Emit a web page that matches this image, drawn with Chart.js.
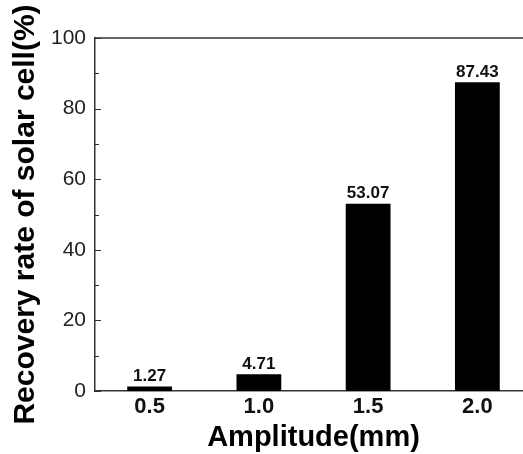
<!DOCTYPE html>
<html>
<head>
<meta charset="utf-8">
<script src="https://cdn.jsdelivr.net/npm/chart.js@4"></script>
<style>
  html, body { margin: 0; padding: 0; background: #fff; overflow: hidden; }
  #wrap { width: 533px; height: 454px; }
</style>
</head>
<body>
<div id="wrap"><canvas id="grafica"></canvas></div>
<script>
const categorias = ["0.5", "1.0", "1.5", "2.0"];
const valores = [1.27, 4.71, 53.07, 87.43];
const etiquetas = ["1.27", "4.71", "53.07", "87.43"];
const ticksY = [0, 20, 40, 60, 80, 100];
const ticksMenores = [10, 30, 50, 70, 90];

const FUENTE = "'Liberation Sans', Arial, sans-serif";
const EJE = "#333";

// marcas hacia adentro, borde superior y titulo del eje Y
const extras = {
  id: "extras",
  afterDatasetsDraw(chart) {
    const ctx = chart.ctx;
    const area = chart.chartArea;
    const y = chart.scales.y;

    ctx.save();
    ctx.strokeStyle = EJE;
    ctx.lineWidth = 1.5;
    ctx.beginPath();
    ctx.moveTo(area.left, area.top);
    ctx.lineTo(area.right, area.top);
    ctx.stroke();

    ctx.lineWidth = 1;
    ticksY.forEach(v => {
      const py = Math.round(y.getPixelForValue(v)) + 0.5;
      ctx.beginPath();
      ctx.moveTo(area.left, py);
      ctx.lineTo(area.left + 6, py);
      ctx.stroke();
    });
    ticksMenores.forEach(v => {
      const py = Math.round(y.getPixelForValue(v)) + 0.5;
      ctx.beginPath();
      ctx.moveTo(area.left, py);
      ctx.lineTo(area.left + 4, py);
      ctx.stroke();
    });

    // valores sobre las barras
    const meta = chart.getDatasetMeta(0);
    ctx.fillStyle = "#111";
    ctx.font = "bold 17px " + FUENTE;
    ctx.textAlign = "center";
    ctx.textBaseline = "bottom";
    meta.data.forEach((barra, i) => {
      ctx.fillText(etiquetas[i], barra.x, barra.y - 2);
    });

    // titulo eje Y
    ctx.translate(26, (area.top + area.bottom) / 2);
    ctx.rotate(-Math.PI / 2);
    ctx.fillStyle = "#000";
    ctx.font = "bold 30px " + FUENTE;
    ctx.textBaseline = "middle";
    ctx.fillText("Recovery rate of solar cell(%)", 0, 0);
    ctx.restore();
  }
};

const ctx = document.getElementById("grafica");

new Chart(ctx, {
  type: "bar",
  data: {
    labels: categorias,
    datasets: [{
      data: valores,
      backgroundColor: "#000",
      borderWidth: 0,
      categoryPercentage: 1,
      barPercentage: 0.41
    }]
  },
  options: {
    responsive: true,
    maintainAspectRatio: false,
    animation: false,
    layout: { padding: { top: 38, right: 1, left: 0, bottom: 0 } },
    plugins: {
      legend: { display: false },
      tooltip: { enabled: false }
    },
    scales: {
      x: {
        grid: { display: false, drawTicks: false },
        border: { display: true, color: EJE, width: 1.5 },
        ticks: {
          color: "#111",
          padding: 3,
          font: { family: FUENTE, size: 22, weight: "bold" }
        },
        title: {
          display: true,
          text: "Amplitude(mm)",
          color: "#000",
          padding: { top: 0, bottom: 0 },
          font: { family: FUENTE, size: 29, weight: "bold", lineHeight: 1.1 }
        },
        afterFit(scale) { scale.height = 63; }
      },
      y: {
        min: 0,
        max: 100,
        grid: { display: false, drawTicks: false },
        border: { display: true, color: EJE, width: 1.5 },
        ticks: {
          stepSize: 20,
          color: "#222",
          padding: 9,
          font: { family: FUENTE, size: 21 }
        },
        afterFit(scale) { scale.width = 95; }
      }
    }
  },
  plugins: [extras]
});
</script>
</body>
</html>
